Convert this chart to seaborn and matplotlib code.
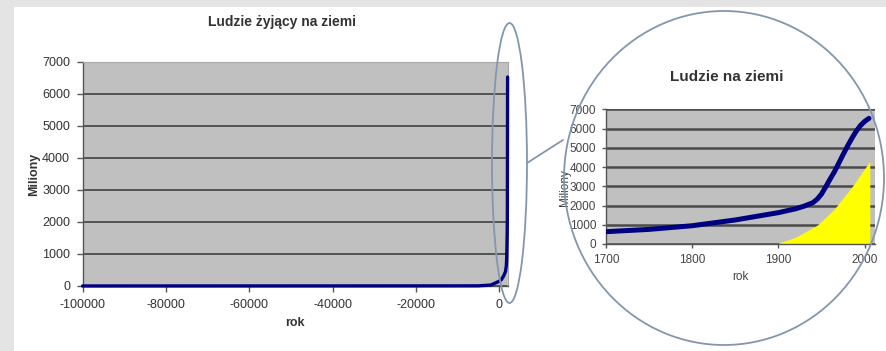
import matplotlib
matplotlib.use("Agg")
import matplotlib.pyplot as plt
from matplotlib.patches import Ellipse, Rectangle
from matplotlib.lines import Line2D
import pandas as pd
import seaborn as sns

# World population (millions) by year
years_early = [-100000, -50000, -20000, -10000, -5000, -2000, 0, 500, 1000, 1500]
pop_early = [1, 2, 3, 4, 5, 30, 150, 200, 300, 450]
years_modern = [1700, 1750, 1800, 1850, 1900, 1920, 1930, 1940, 1945, 1950, 1955,
                1960, 1965, 1970, 1975, 1980, 1985, 1990, 1995, 2000, 2005]
pop_modern = [640, 760, 950, 1250, 1630, 1830, 1970, 2150, 2330, 2600, 2980,
              3380, 3760, 4200, 4650, 5080, 5480, 5850, 6150, 6370, 6530]

# Yellow area series (millions)
years_fill = [1900, 1920, 1945, 1964, 1984, 2006]
fill_values = [50, 350, 980, 1770, 2890, 4300]

main_xticks = [-100000, -80000, -60000, -40000, -20000, 0]
zoom_xticks = [1700, 1800, 1900, 2000]
y_ticks = [0, 1000, 2000, 3000, 4000, 5000, 6000, 7000]

main_title = "Ludzie żyjący na ziemi"
zoom_title = "Ludzie na ziemi"
x_label = "rok"
y_label = "Miliony"

population = pd.DataFrame({
    "rok": years_early + years_modern,
    "ludzie": pop_early + pop_modern,
})
recent = population[population["rok"] >= 1700]

sns.set_style("white")
plt.rcParams["font.family"] = ["Liberation Sans", "DejaVu Sans"]
plt.rcParams["axes.unicode_minus"] = False

W, H = 886, 351
fig = plt.figure(figsize=(W / 100, H / 100), dpi=100)
fig.patch.set_facecolor("white")


def box(left, top, right, bottom):
    return [left / W, 1 - bottom / H, (right - left) / W, (bottom - top) / H]


# slide frame strips
fig.patches.append(Rectangle((0, 0), 14 / W, 1, transform=fig.transFigure,
                             facecolor="#e4e4e4", edgecolor="none", zorder=0))
fig.patches.append(Rectangle((0, 1 - 7 / H), 1, 7 / H, transform=fig.transFigure,
                             facecolor="#e4e4e4", edgecolor="none", zorder=0))

text_col = "#333333"
grid_col = "#4a4a4a"
navy = "#000080"
yellow = "#ffff00"
plot_bg = "#c0c0c0"

# ---- main chart ----
ax = fig.add_axes(box(82.5, 62, 508, 286))
ax.set_facecolor(plot_bg)
ax.fill_between(years_fill, fill_values, color=yellow, lw=0, zorder=2)
sns.lineplot(data=population, x="rok", y="ludzie", ax=ax, color=navy,
             lw=2.4, zorder=3, clip_on=False)
ax.set_xlim(-100000, 2100)
ax.set_ylim(0, 7000)
ax.set_xticks(main_xticks)
ax.set_xticklabels([str(v) for v in main_xticks])
ax.set_yticks(y_ticks)
ax.set_yticklabels([str(v) for v in y_ticks])
ax.yaxis.grid(True, color=grid_col, lw=1.3)
ax.xaxis.grid(False)
ax.set_axisbelow(True)
for side in ["top", "right"]:
    ax.spines[side].set_color("#a8a8a8")
    ax.spines[side].set_linewidth(0.8)
for side in ["left", "bottom"]:
    ax.spines[side].set_color("#555555")
    ax.spines[side].set_linewidth(1.0)
ax.tick_params(axis="both", direction="out", length=4, width=1, color="#555555",
               labelsize=9, labelcolor=text_col, pad=5, bottom=True, left=True)
ax.set_xlabel(x_label, fontsize=9, fontweight="bold", color=text_col, labelpad=5)
ax.set_ylabel(y_label, fontsize=9, fontweight="bold", color=text_col, labelpad=1)
fig.text(282 / W, 1 - 22 / H, main_title, ha="center", va="center",
         fontsize=10, fontweight="bold", color=text_col)

# ---- magnified chart ----
ax2 = fig.add_axes(box(606, 109.3, 875, 244))
ax2.set_facecolor(plot_bg)
ax2.fill_between(years_fill, fill_values, color=yellow, lw=0, zorder=2)
sns.lineplot(data=recent, x="rok", y="ludzie", ax=ax2, color=navy,
             lw=3.6, zorder=3, solid_capstyle="round", solid_joinstyle="round")
ax2.set_xlim(1700, 2012)
ax2.set_ylim(0, 7000)
ax2.set_xticks(zoom_xticks)
ax2.set_xticklabels([str(v) for v in zoom_xticks])
ax2.set_yticks(y_ticks)
ax2.set_yticklabels([str(v) for v in y_ticks])
ax2.yaxis.grid(True, color=grid_col, lw=1.8)
ax2.xaxis.grid(False)
ax2.set_axisbelow(True)
for side in ["top", "right"]:
    ax2.spines[side].set_visible(False)
for side in ["left", "bottom"]:
    ax2.spines[side].set_color("#555555")
    ax2.spines[side].set_linewidth(1.0)
ax2.tick_params(axis="both", direction="out", length=3, width=1, color="#555555",
                labelsize=8.5, labelcolor="#444444", pad=4, bottom=True, left=True)
ax2.set_xlabel(x_label, fontsize=8.5, color="#444444", labelpad=4)
ax2.set_ylabel(y_label, fontsize=8.5, color="#444444")
ax2.yaxis.set_label_coords(-0.13, 0.42)
fig.text(727 / W, 1 - 77 / H, zoom_title, ha="center", va="center",
         fontsize=11, fontweight="bold", color=text_col)

# ---- magnifier outlines ----
ring_col = "#8496ad"
fig.patches.append(Ellipse((509.5 / W, 1 - 163 / H), 35 / W, 280 / H,
                           transform=fig.transFigure, fill=False,
                           edgecolor=ring_col, lw=1.3, zorder=10))
fig.patches.append(Ellipse((724 / W, 1 - 178 / H), 320 / W, 334 / H,
                           transform=fig.transFigure, fill=False,
                           edgecolor=ring_col, lw=1.3, zorder=10))
fig.lines.append(Line2D([527 / W, 563 / W], [1 - 163 / H, 1 - 140 / H],
                        transform=fig.transFigure, color=ring_col, lw=1.3, zorder=10))

fig.savefig("out.png", dpi=100)
